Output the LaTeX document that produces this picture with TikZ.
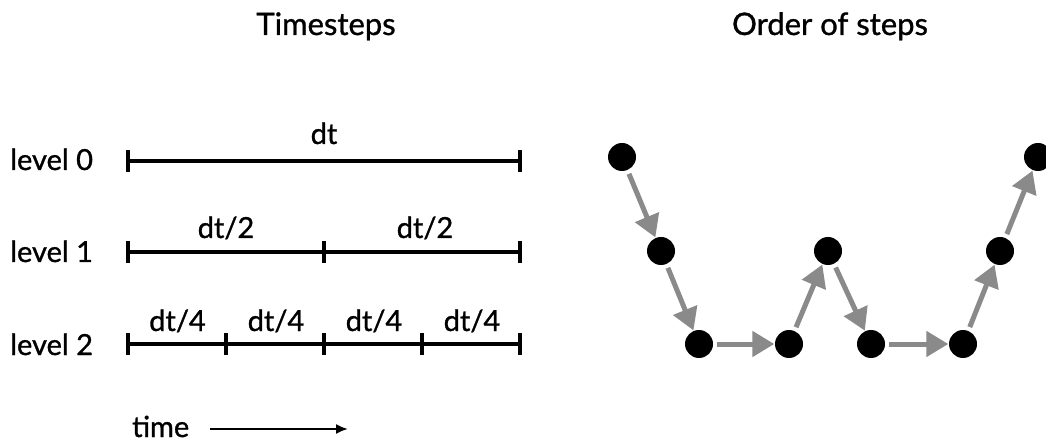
\documentclass[tikz,border=0pt]{standalone}
\usepackage{fontspec}
\setmainfont{Lato}[FakeBold=1.0]
\usetikzlibrary{arrows.meta}
\definecolor{arrowgray}{RGB}{138,138,138}
\begin{document}
\begin{tikzpicture}[x=1pt,y=-1pt,
  txt/.style={font=\fontsize{29}{34}\selectfont, inner sep=0pt},
  ttl/.style={txt, font=\fontsize{31}{36}\selectfont, anchor=base},
  lvl/.style={txt, anchor=base west},
  seg/.style={txt, anchor=base},
  bar/.style={line width=3.2pt},
  dot/.style={circle, fill=black, minimum size=28pt, inner sep=0pt},
  flow/.style={draw=arrowgray, line width=5pt,
    -{Triangle[length=22pt,width=25pt]}, shorten <=4pt, shorten >=0.5pt},
  timearrow/.style={line width=2pt, -{Latex[length=12pt,width=10pt]}}
]
\clip (0,0) rectangle (1046,443);
\useasboundingbox (0,0) rectangle (1046,443);

% titles
\node[ttl] (ttime) at (326,35) {Timesteps};
\node[ttl] (torder) at (830,35) {Order of steps};

% level labels
\node[lvl] (l0) at (10,170) {level 0};
\node[lvl] (l1) at (10,262) {level 1};
\node[lvl] (l2) at (10,355) {level 2};

% tick positions on each level
\foreach \y/\n in {161/a,252/b,344/c}{
  \foreach \x/\i in {128/0,226/1,324/2,422/3,520/4}{
    \coordinate (\n\i) at (\x,\y);
  }
}

% level 0: one step
\draw[bar] (a0) -- (a4);
\foreach \i in {0,4} \draw[bar] ([yshift=-11pt]a\i) -- ([yshift=11pt]a\i);
\node[seg] (dt0) at (324,144) {dt};

% level 1: two half steps
\draw[bar] (b0) -- (b4);
\foreach \i in {0,2,4} \draw[bar] ([yshift=-11pt]b\i) -- ([yshift=11pt]b\i);
\node[seg] (dt1a) at (226,238) {dt/2};
\node[seg] (dt1b) at (425,238) {dt/2};

% level 2: four quarter steps
\draw[bar] (c0) -- (c4);
\foreach \i in {0,1,2,3,4} \draw[bar] ([yshift=-11pt]c\i) -- ([yshift=11pt]c\i);
\node[seg] (dt2a) at (177.5,331) {dt/4};
\node[seg] (dt2b) at (276,331) {dt/4};
\node[seg] (dt2c) at (374,331) {dt/4};
\node[seg] (dt2d) at (472,331) {dt/4};

% time axis
\node[lvl] (tlabel) at (132,437) {time};
\coordinate (tstart) at (210,429);
\coordinate (tend) at (348,429);
\draw[timearrow] (tstart) -- (tend);

% order of steps
\node[dot] (s1) at (622,157) {};
\node[dot] (s2) at (661,251) {};
\node[dot] (s3) at (699,344) {};
\node[dot] (s4) at (789,344) {};
\node[dot] (s5) at (828,251) {};
\node[dot] (s6) at (871,344) {};
\node[dot] (s7) at (963,344) {};
\node[dot] (s8) at (1000,251) {};
\node[dot] (s9) at (1038,157) {};

\foreach \a/\b in {s1/s2,s2/s3,s3/s4,s4/s5,s5/s6,s6/s7,s7/s8,s8/s9}
  \draw[flow] (\a) -- (\b);
\end{tikzpicture}
\end{document}
